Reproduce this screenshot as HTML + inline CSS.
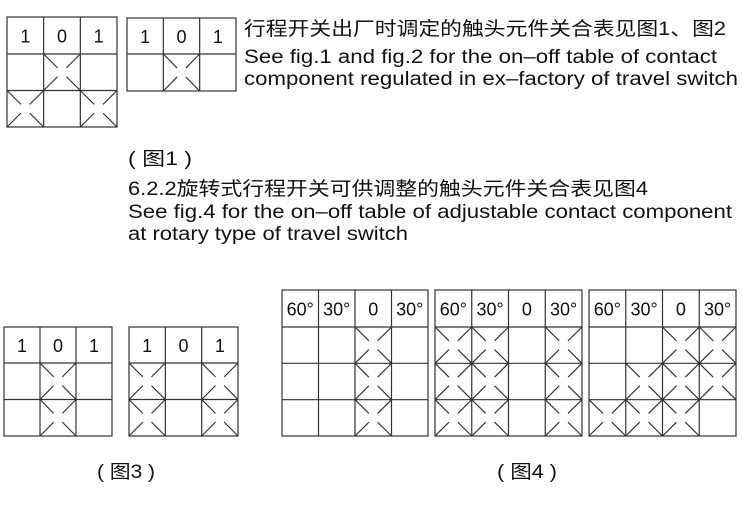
<!DOCTYPE html>
<html><head><meta charset="utf-8"><style>
html,body{margin:0;padding:0;background:#fff;width:743px;height:515px;overflow:hidden}
svg{display:block}
text{font-family:"Liberation Sans","Noto Sans CJK SC",sans-serif;fill:#111;font-size:19px}
.h{font-size:18px;text-anchor:middle}
</style></head><body>
<svg id="s" width="743" height="515" viewBox="0 0 743 515" xmlns="http://www.w3.org/2000/svg">
<text x="244" y="35" textLength="482" lengthAdjust="spacingAndGlyphs">行程开关出厂时调定的触头元件关合表见图1、图2</text>
<text x="244" y="63" textLength="473" lengthAdjust="spacingAndGlyphs">See fig.1 and fig.2 for the on–off table of contact</text>
<text x="244" y="85" textLength="494" lengthAdjust="spacingAndGlyphs">component regulated in ex–factory of travel switch</text>
<text x="128" y="165" textLength="64" lengthAdjust="spacingAndGlyphs">( 图1 )</text>
<text x="128" y="195" textLength="520" lengthAdjust="spacingAndGlyphs">6.2.2旋转式行程开关可供调整的触头元件关合表见图4</text>
<text x="128" y="218" textLength="604" lengthAdjust="spacingAndGlyphs">See fig.4 for the on–off table of adjustable contact component</text>
<text x="128" y="240" textLength="280" lengthAdjust="spacingAndGlyphs">at rotary type of travel switch</text>
<text x="97" y="478" textLength="58" lengthAdjust="spacingAndGlyphs">( 图3 )</text>
<text x="497" y="478" textLength="60" lengthAdjust="spacingAndGlyphs">( 图4 )</text>
<g id="g" stroke="#333" stroke-width="1.2" fill="none"></g>
<g id="t"></g>
</svg>
<script>
var g=document.getElementById('g'),t=document.getElementById('t'),NS='http://www.w3.org/2000/svg';
function L(x1,y1,x2,y2){var l=document.createElementNS(NS,'line');l.setAttribute('x1',x1);l.setAttribute('y1',y1);l.setAttribute('x2',x2);l.setAttribute('y2',y2);g.appendChild(l);}
function T(x,y,s){var e=document.createElementNS(NS,'text');e.setAttribute('x',x);e.setAttribute('y',y);e.setAttribute('class','h');e.textContent=s;t.appendChild(e);}
function tbl(x0,y0,x1,y1,hb,labels,rows,marks){
 var n=labels.length,cw=(x1-x0)/n,rh=(y1-hb)/rows;
 var r=document.createElementNS(NS,'rect');r.setAttribute('x',x0);r.setAttribute('y',y0);r.setAttribute('width',x1-x0);r.setAttribute('height',y1-y0);g.appendChild(r);
 for(var i=1;i<n;i++)L(x0+i*cw,y0,x0+i*cw,y1);
 for(var j=0;j<rows;j++)L(x0,hb+j*rh,x1,hb+j*rh);
 for(i=0;i<n;i++)T(x0+(i+0.5)*cw,(y0+hb)/2+7,labels[i]);
 marks.forEach(function(m){var cx=x0+m[0]*cw,cy=hb+m[1]*rh,mx=cx+cw/2,my=cy+rh/2,f=0.38;
  [[cx,cy],[cx+cw,cy],[cx,cy+rh],[cx+cw,cy+rh]].forEach(function(p){L(p[0],p[1],p[0]+(mx-p[0])*f*2,p[1]+(my-p[1])*f*2);});});
}
var a=['1','0','1'],d=['60°','30°','0','30°'];
tbl(7,17,117,127,54,a,2,[[1,0],[0,1],[2,1]]);
tbl(127,18,236,91,54,a,1,[[1,0]]);
tbl(4,327,112,436,363,a,2,[[1,0],[1,1]]);
tbl(129,327,238,436,363,a,2,[[0,0],[0,1],[2,0],[2,1]]);
tbl(282,290,428,436,327,d,3,[[2,0],[2,1],[2,2]]);
tbl(435,290,582,436,327,d,3,[[0,0],[0,1],[0,2],[1,0],[1,1],[1,2],[3,0],[3,1],[3,2]]);
tbl(589,290,736,436,327,d,3,[[2,0],[3,0],[1,1],[2,1],[3,1],[0,2],[1,2],[2,2]]);
</script>
</body></html>
